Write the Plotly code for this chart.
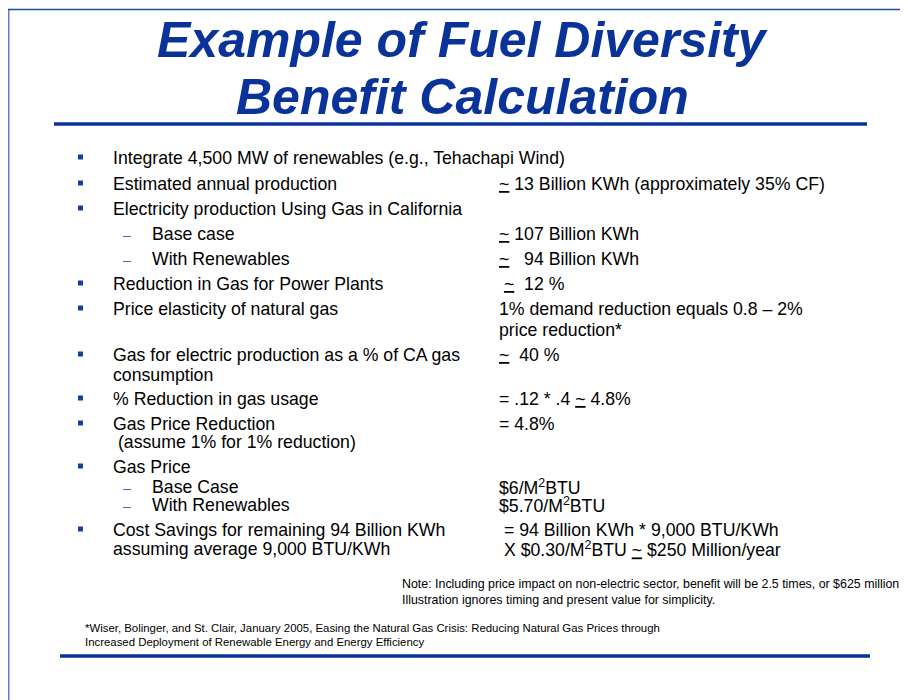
import plotly.graph_objects as go

# ---- content ----
title_lines = ["Example of Fuel Diversity", "Benefit Calculation"]

left_kinds = ["bullet", "bullet", "bullet", "dash", "dash", "bullet", "bullet",
              "bullet", "cont", "bullet", "bullet", "cont", "bullet", "dash", "dash",
              "bullet", "cont"]
left_texts = [
    "Integrate 4,500 MW of renewables (e.g., Tehachapi Wind)",
    "Estimated annual production",
    "Electricity production Using Gas in California",
    "Base case",
    "With Renewables",
    "Reduction in Gas for Power Plants",
    "Price elasticity of natural gas",
    "Gas for electric production as a % of CA gas",
    "consumption",
    "% Reduction in gas usage",
    "Gas Price Reduction",
    "\u00a0(assume 1% for 1% reduction)",
    "Gas Price",
    "Base Case",
    "With Renewables",
    "Cost Savings for remaining 94 Billion KWh",
    "assuming average 9,000 BTU/KWh",
]
left_y = [158, 184, 209, 234, 259, 284, 309, 355, 375, 399, 424, 442, 467, 487, 505, 530, 549]

right_texts = [
    "<u>~</u> 13 Billion KWh (approximately 35% CF)",
    "<u>~</u> 107 Billion KWh",
    "<u>~</u>\u00a0\u00a0 94 Billion KWh",
    "\u00a0<u>~</u>\u00a0 12 %",
    "1% demand reduction equals 0.8 \u2013 2%",
    "price reduction*",
    "<u>~</u>\u00a0 40 %",
    "= .12 * .4 <u>~</u> 4.8%",
    "= 4.8%",
    "$6/M<sup>2</sup>BTU",
    "$5.70/M<sup>2</sup>BTU",
    "\u00a0= 94 Billion KWh * 9,000 BTU/KWh",
    "\u00a0X $0.30/M<sup>2</sup>BTU <u>~</u> $250 Million/year",
]
right_y = [184, 234, 259, 284, 309, 330, 355, 399, 424, 487, 505, 530, 549]

note_lines = [
    "Note: Including price impact on non-electric sector, benefit will be 2.5 times, or $625 million",
    "Illustration ignores timing and present value for simplicity.",
]
footnote_lines = [
    "*Wiser, Bolinger, and St. Clair, January 2005, Easing the Natural Gas Crisis: Reducing Natural Gas Prices through",
    "Increased Deployment of Renewable Energy and Energy Efficiency",
]

# ---- styling ----
BLUE = "#0a3399"
FONT = "Liberation Sans, Arial, sans-serif"
OFF = 8  # page body margin compensation

fig = go.Figure()

# bullets
bx = [80.5 for k in left_kinds if k == "bullet"]
by = [y - 1 for k, y in zip(left_kinds, left_y) if k == "bullet"]
fig.add_trace(go.Scatter(x=bx, y=by, mode="markers",
                         marker=dict(symbol="square", size=5, color="#1a3aa8", line=dict(width=0)),
                         hoverinfo="skip", showlegend=False))

ann = []
for t, y in zip(title_lines, [40, 97]):
    ann.append(dict(x=462, y=y, text="<b><i>" + t + "</i></b>", showarrow=False,
                    xanchor="center", yanchor="middle",
                    font=dict(family=FONT, size=50, color=BLUE)))

shapes = []
for k, t, y in zip(left_kinds, left_texts, left_y):
    x = 152 if k == "dash" else 113
    ann.append(dict(x=x, y=y, text=t, showarrow=False, xanchor="left", yanchor="middle",
                    font=dict(family=FONT, size=17.7, color="black")))
    if k == "dash":
        shapes.append(dict(type="line", x0=123, x1=131, y0=y + 2.5, y1=y + 2.5,
                           line=dict(color="#4a6cc0", width=1)))

for t, y in zip(right_texts, right_y):
    ann.append(dict(x=499, y=y, text=t, showarrow=False, xanchor="left", yanchor="middle",
                    font=dict(family=FONT, size=17.7, color="black")))

for t, y in zip(note_lines, [584, 600]):
    ann.append(dict(x=402, y=y, text=t, showarrow=False, xanchor="left", yanchor="middle",
                    font=dict(family=FONT, size=12.4, color="black")))

for t, y in zip(footnote_lines, [628, 642]):
    ann.append(dict(x=85, y=y, text=t, showarrow=False, xanchor="left", yanchor="middle",
                    font=dict(family=FONT, size=11.4, color="black")))

for a in ann:
    a.update(xref="x", yref="y", borderpad=0, borderwidth=0)

shapes += [
    # frame
    dict(type="line", x0=8.5, x1=8.5, y0=9, y1=720, line=dict(color="#5a7fd0", width=2)),
    dict(type="line", x0=8, x1=930, y0=9.5, y1=9.5, line=dict(color="#1f4e9a", width=1.5)),
    # title underline
    dict(type="line", x0=54, x1=867, y0=124, y1=124, line=dict(color=BLUE, width=3.5)),
    # bottom rule
    dict(type="line", x0=60, x1=870, y0=656, y1=656, line=dict(color=BLUE, width=3.5)),
]
for s in shapes:
    s.update(xref="x", yref="y")

fig.update_layout(
    width=908, height=700, margin=dict(l=0, r=0, t=0, b=0),
    paper_bgcolor="white", plot_bgcolor="white",
    xaxis=dict(range=[OFF, 908 + OFF], visible=False, fixedrange=True),
    yaxis=dict(range=[700 + OFF, OFF], visible=False, fixedrange=True),
    annotations=ann, shapes=shapes, showlegend=False,
)

fig.write_html("out.html")
